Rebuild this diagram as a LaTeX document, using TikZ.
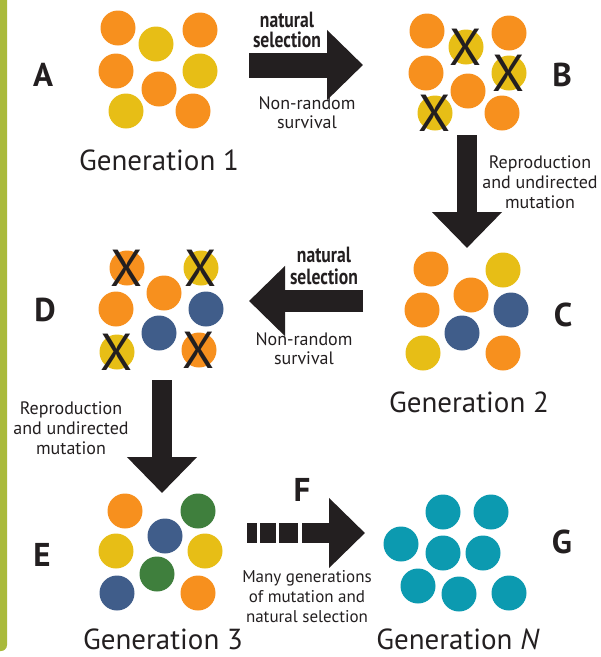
\documentclass[tikz,border=0pt]{standalone}
\usepackage{fontspec}
\setmainfont{PT Sans}
\newfontfamily\narrowfont[FakeStretch=0.8]{PT Sans}
\usetikzlibrary{arrows.meta}
\definecolor{beadorange}{HTML}{F7901E}
\definecolor{beadyellow}{HTML}{E7BE16}
\definecolor{beadblue}{HTML}{405D8A}
\definecolor{beadgreen}{HTML}{3F7F3D}
\definecolor{beadteal}{HTML}{0C9AB0}
\definecolor{inkblack}{HTML}{231F20}
\definecolor{framegreen}{HTML}{A9BA3C}
\tikzset{
  bead/.style={circle, fill=#1, minimum size=35pt, inner sep=0pt},
  kill/.style={font=\fontsize{52}{52}\selectfont, inner sep=0pt, text=inkblack},
  tag/.style={font=\fontsize{33}{33}\selectfont\bfseries, inner sep=0pt, text=inkblack},
  gen/.style={font=\fontsize{29}{29}\selectfont, inner sep=0pt, text=inkblack},
  note/.style={font=\fontsize{18}{19}\selectfont, align=center, inner sep=0pt, text=inkblack},
  selnote/.style={font=\narrowfont\fontsize{22}{20}\selectfont\bfseries, align=center, inner sep=0pt, text=inkblack},
  bigarrow/.style={draw=inkblack, line width=#1, -{Triangle[length=36pt,width=68pt]}}
}
\begin{document}
\begin{tikzpicture}[x=1pt,y=-1pt]
\useasboundingbox (0,0) rectangle (601,657);
\fill[framegreen, rounded corners=6pt] (-10,-10) rectangle (7,651);
% generation 1
\node[bead=beadorange] (a1) at (118,28) {};
\node[bead=beadyellow] (a2) at (156,44) {};
\node[bead=beadorange] (a3) at (200,30) {};
\node[bead=beadorange] (a4) at (116,71) {};
\node[bead=beadyellow] (a5) at (200,71) {};
\node[bead=beadorange] (a6) at (159,89) {};
\node[bead=beadyellow] (a7) at (126,111) {};
\node[bead=beadorange] (a8) at (193,111) {};
\node[tag] (A) at (43,75) {A};
\node[gen] (gen1) at (159,160) {Generation 1};
% selection on generation 1
\node[bead=beadorange] (b1) at (427,31) {};
\node[bead=beadyellow] (b2) at (466,47) {};
\node[bead=beadorange] (b3) at (509,33) {};
\node[bead=beadorange] (b4) at (426,73) {};
\node[bead=beadyellow] (b5) at (509,73) {};
\node[bead=beadorange] (b6) at (468,91) {};
\node[bead=beadyellow] (b7) at (435,113) {};
\node[bead=beadorange] (b8) at (502,113) {};
\node[kill] at (b2) {X};
\node[kill] at (b5) {X};
\node[kill] at (b7) {X};
\node[tag] (B) at (562,75) {B};
% generation 2
\node[bead=beadorange] (c1) at (431,269) {};
\node[bead=beadyellow] (c2) at (503,270) {};
\node[bead=beadorange] (c3) at (471,295) {};
\node[bead=beadorange] (c4) at (422,310) {};
\node[bead=beadblue] (c5) at (511,310) {};
\node[bead=beadblue] (c6) at (462,333) {};
\node[bead=beadyellow] (c7) at (423,353) {};
\node[bead=beadorange] (c8) at (503,353) {};
\node[tag] (C) at (563,315) {C};
\node[gen] (gen2) at (469,402) {Generation 2};
% selection on generation 2
\node[bead=beadorange] (d1) at (127,268) {};
\node[bead=beadyellow] (d2) at (201,268) {};
\node[bead=beadorange] (d3) at (164,293) {};
\node[bead=beadorange] (d4) at (116,309) {};
\node[bead=beadblue] (d5) at (206,309) {};
\node[bead=beadblue] (d6) at (159,333) {};
\node[bead=beadyellow] (d7) at (117,352) {};
\node[bead=beadorange] (d8) at (199,350) {};
\node[kill] at (d1) {X};
\node[kill] at (d2) {X};
\node[kill] at (d7) {X};
\node[kill] at (d8) {X};
\node[tag] (D) at (45,310) {D};
% generation 3
\node[bead=beadorange] (e1) at (125,511) {};
\node[bead=beadgreen] (e2) at (198,511) {};
\node[bead=beadblue] (e3) at (165,536) {};
\node[bead=beadyellow] (e4) at (116,551) {};
\node[bead=beadyellow] (e5) at (205,551) {};
\node[bead=beadgreen] (e6) at (157,574) {};
\node[bead=beadblue] (e7) at (117,593) {};
\node[bead=beadorange] (e8) at (198,593) {};
\node[tag] (E) at (42,555) {E};
\node[gen] (gen3) at (163,639) {Generation 3};
% generation N
\node[bead=beadteal] (g1) at (443,512) {};
\node[bead=beadteal] (g2) at (491,512) {};
\node[bead=beadteal] (g3) at (401,544) {};
\node[bead=beadteal] (g4) at (443,553) {};
\node[bead=beadteal] (g5) at (483,553) {};
\node[bead=beadteal] (g6) at (418,586) {};
\node[bead=beadteal] (g7) at (459,594) {};
\node[bead=beadteal] (g8) at (509,593) {};
\node[tag] (G) at (562,542) {G};
\node[gen] (genN) at (458,639) {Generation \textit{N}};
% arrows
\coordinate (ab1) at (249,65);
\coordinate (ab2) at (363,65);
\draw[bigarrow=25pt] (ab1) -- (ab2);
\node[selnote] (sel1) at (287,30) {natural\\selection};
\node[note] (surv1) at (307,113) {Non-random\\survival};
\coordinate (bc1) at (467,135);
\coordinate (bc2) at (467,248);
\draw[bigarrow=20pt] (bc1) -- (bc2);
\node[note, font=\fontsize{18}{20}\selectfont] (rep1) at (540,182) {Reproduction\\and undirected\\mutation};
\coordinate (cd1) at (363,301);
\coordinate (cd2) at (249,301);
\draw[bigarrow=22pt] (cd1) -- (cd2);
\node[selnote, font=\narrowfont\fontsize{22}{22}\selectfont\bfseries] (sel2) at (324,266) {natural\\selection};
\node[note] (surv2) at (304,349) {Non-random\\survival};
\coordinate (de1) at (162,380);
\coordinate (de2) at (162,493);
\draw[bigarrow=20pt] (de1) -- (de2);
\node[note, font=\fontsize{18}{20}\selectfont] (rep2) at (71,428) {Reproduction\\and undirected\\mutation};
\coordinate (fg1) at (247,533);
\coordinate (fg2) at (365,533);
\draw[bigarrow=20pt, dash pattern=on 10pt off 3pt on 16pt off 3pt on 19pt off 4pt on 200pt] (fg1) -- (fg2);
\node[tag] (F) at (302,490) {F};
\node[note, font=\fontsize{17}{20}\selectfont] (many) at (307,597) {Many generations\\of mutation and\\natural selection};
\end{tikzpicture}
\end{document}
